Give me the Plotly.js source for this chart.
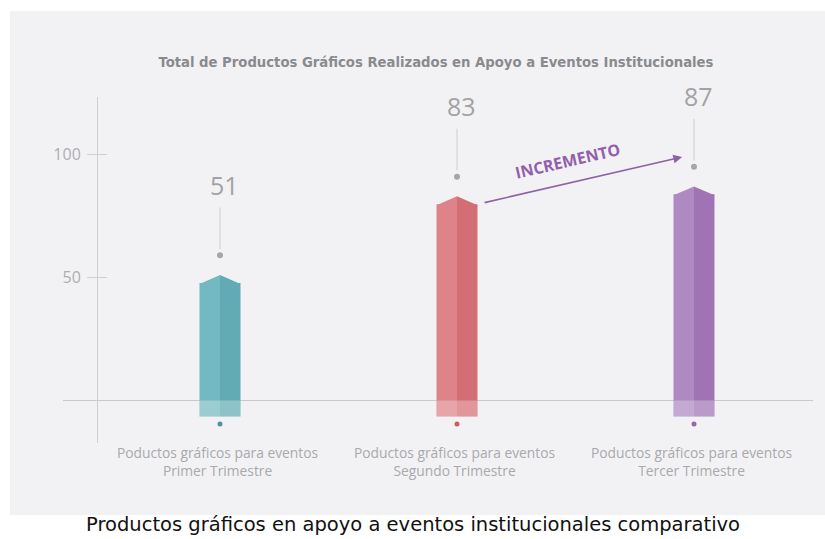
<!DOCTYPE html>
<html>
<head>
<meta charset="utf-8">
<script src="https://cdn.plot.ly/plotly-3.0.1.min.js"></script>
<style>html,body{margin:0;padding:0;background:#fff;overflow:hidden;}#chart{width:825px;height:539px;}</style>
</head>
<body>
<div id="chart"></div>
<script>
// ---- data ----
const categoryLine1 = ["Poductos gráficos para eventos", "Poductos gráficos para eventos", "Poductos gráficos para eventos"];
const categoryLine2 = ["Primer Trimestre", "Segundo Trimestre", "Tercer Trimestre"];
const values = [51, 83, 87];
const valueLabels = ["51", "83", "87"];
const tickValues = [50, 100];
const tickLabels = ["50", "100"];
const titleText = "Total de Productos Gráficos Realizados en Apoyo a Eventos Institucionales";
const captionText = "Productos gráficos en apoyo a eventos institucionales comparativo";
const arrowText = "INCREMENTO";

// ---- styles ----
const leftColors = ["#73b9c1", "#de838a", "#ae89c2"];
const rightColors = ["#62abb5", "#d46e75", "#a074b4"];
const dotColors = ["#4f939d", "#d4585f", "#8f6ca3"];
const halfW = 0.0865;
const baseVal = -6.5;
const capH = 3.2;

const xIdx = values.map((v, i) => i);
const traces = [];

// bar bodies (left and right halves)
traces.push({
  type: "bar", x: xIdx, y: values.map(v => v - capH - baseVal), base: baseVal,
  width: halfW, offset: -halfW, marker: {color: leftColors, line: {width: 0}}
});
traces.push({
  type: "bar", x: xIdx, y: values.map(v => v - capH - baseVal), base: baseVal,
  width: halfW, offset: 0, marker: {color: rightColors, line: {width: 0}}
});
// lighter part below zero
traces.push({
  type: "bar", x: xIdx, y: values.map(() => -baseVal), base: baseVal,
  width: 2 * halfW, offset: -halfW, marker: {color: "rgba(255,255,255,0.28)", line: {width: 0}}
});
// caps (pointed tops)
values.forEach((v, i) => {
  const s = v - capH - 0.4;
  traces.push({
    type: "scatter", mode: "lines", fill: "toself", fillcolor: leftColors[i], line: {width: 0, color: leftColors[i]},
    x: [i - halfW, i, i, i - halfW], y: [s, v, s, s]
  });
  traces.push({
    type: "scatter", mode: "lines", fill: "toself", fillcolor: rightColors[i], line: {width: 0, color: rightColors[i]},
    x: [i, i + halfW, i, i], y: [v, s, s, v]
  });
});
// dots above bars
traces.push({
  type: "scatter", mode: "markers", x: xIdx, y: values.map(v => v + 8),
  marker: {size: 6, color: "#a5a5ab"}
});
// dots below bars
traces.push({
  type: "scatter", mode: "markers", x: xIdx, y: values.map(() => -9.6),
  marker: {size: 5, color: dotColors}
});

const shapes = [
  {type: "rect", xref: "paper", yref: "paper", x0: -0.0707, x1: 1.06, y0: -0.208, y1: 1.2486,
   fillcolor: "#f2f2f4", line: {width: 0}, layer: "below"}
];
values.forEach((v, i) => {
  shapes.push({type: "line", xref: "x", yref: "y", x0: i, x1: i, y0: v + 10.5, y1: v + 27.5,
    line: {color: "#cfcfd4", width: 1}});
});

const annotations = [];
values.forEach((v, i) => {
  annotations.push({
    x: i + 0.02, y: v + 29, xref: "x", yref: "y", text: valueLabels[i], showarrow: false,
    yanchor: "bottom", xanchor: "center",
    font: {family: "Open Sans, Lato, sans-serif", size: 25, color: "#a2a2a6"}
  });
  annotations.push({
    x: i - 0.012, y: 0, xref: "x", yref: "paper", yanchor: "top", yshift: 2,
    text: categoryLine1[i] + "<br>" + categoryLine2[i], showarrow: false,
    font: {family: "Open Sans, sans-serif", size: 13.8, color: "#a9a9ad"}
  });
});
// arrow
annotations.push({
  x: 1.95, y: values[2] + 12, ax: 1.11, ay: values[1] - 2.7, xref: "x", yref: "y", axref: "x", ayref: "y",
  text: "", showarrow: true, arrowhead: 2, arrowsize: 1.1, arrowwidth: 1.6, arrowcolor: "#8f62a6"
});
annotations.push({
  x: 1.465, y: values[2] + 10.5, xref: "x", yref: "y", text: "<b>" + arrowText + "</b>", showarrow: false,
  textangle: -13, font: {family: "Open Sans, sans-serif", size: 16, color: "#935fac"}
});
// caption
annotations.push({
  x: (412.5 - 63) / 750, y: 0, xref: "paper", yref: "paper", yanchor: "middle", yshift: -81,
  text: captionText, showarrow: false, borderpad: 0,
  font: {family: "DejaVu Sans, sans-serif", size: 19.5, color: "#111111"}
});

const yRange = [-17.28, 123.37];
const layout = {
  width: 825, height: 539,
  margin: {l: 63, r: 12, t: 97, b: 96, pad: 0},
  paper_bgcolor: "#ffffff", plot_bgcolor: "rgba(0,0,0,0)",
  showlegend: false, hovermode: false, barmode: "overlay",
  title: {
    text: "<b>" + titleText + "</b>", x: 436 / 825, xanchor: "center", y: 1 - 62 / 539, yanchor: "middle",
    font: {family: "Liberation Sans Narrow, DejaVu Sans Condensed, sans-serif", size: 14.7, color: "#8a8a8e"}
  },
  xaxis: {range: [-0.6624, 2.5021], visible: false, fixedrange: true},
  yaxis: {
    range: yRange, anchor: "free", position: (97 - 63) / 750, showgrid: false,
    showline: true, linecolor: "#cfcfd3", linewidth: 1,
    zeroline: true, zerolinecolor: "#c9c9cd", zerolinewidth: 1,
    ticks: "outside", ticklen: 10, tickcolor: "#cfcfd3", tickwidth: 1,
    tickvals: tickValues, ticktext: tickLabels, ticklabelstandoff: 3,
    tickfont: {family: "Open Sans, sans-serif", size: 16, color: "#aeaeb2"}, fixedrange: true
  },
  yaxis2: {
    range: yRange, overlaying: "y", anchor: "free", position: (97 - 63) / 750, showgrid: false,
    showline: false, zeroline: false, ticks: "inside", ticklen: 9, tickcolor: "#cfcfd3", tickwidth: 1,
    tickvals: tickValues, showticklabels: false, fixedrange: true
  },
  shapes: shapes,
  annotations: annotations
};
// an invisible point to activate yaxis2
traces.push({type: "scatter", x: [0], y: [0], yaxis: "y2", mode: "markers", marker: {opacity: 0}});

Plotly.newPlot("chart", traces, layout, {staticPlot: true, displayModeBar: false});
</script>
</body>
</html>
